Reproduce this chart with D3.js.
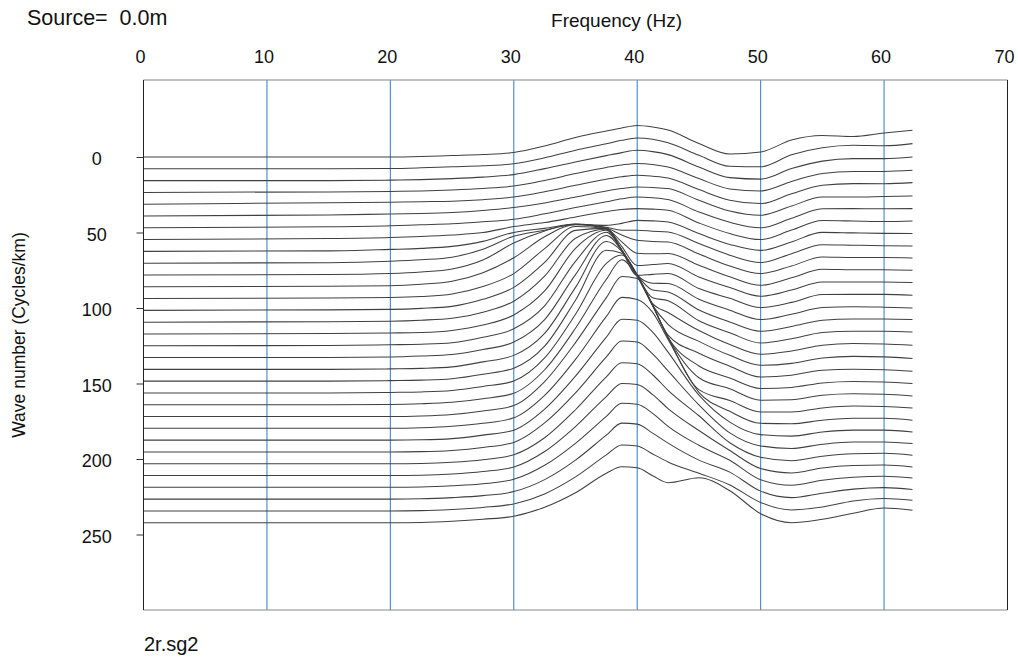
<!DOCTYPE html>
<html>
<head>
<meta charset="utf-8">
<script src="https://cdn.jsdelivr.net/npm/d3@7"></script>
<style>
  html, body { margin: 0; padding: 0; background: #fff; }
  svg { display: block; font-family: "Liberation Sans", Arial, sans-serif; }
</style>
</head>
<body>
<svg id="chart" width="1018" height="657"></svg>
<script>
// f-k spectrum wiggle display: one trace per wave number, amplitude vs frequency

const freqTicks = [0, 10, 20, 30, 40, 50, 60, 70];
const waveTicks = [0, 50, 100, 150, 200, 250];

// wave number of each trace (cycles/km)
const waveNumbers = [0, 7.81, 15.63, 23.44, 31.25, 39.06, 46.88, 54.69, 62.5, 70.31,
  78.13, 85.94, 93.75, 101.56, 109.38, 117.19, 125, 132.81, 140.63, 148.44,
  156.25, 164.06, 171.88, 179.69, 187.5, 195.31, 203.13, 210.94, 218.75, 226.56,
  234.38, 242.19];

// frequencies (Hz) where each trace amplitude is given
const freqs = [0, 15, 20, 22.5, 25, 27.5, 30, 32.5, 35, 37.5, 38.75, 40, 41.25, 42.5,
  45, 47.5, 50, 52.5, 55, 57.5, 60, 62.3];

// spectral amplitude of each trace at the frequencies above (display units)
const traceAmps = [
  [0, 0, 0, 0.5, 1.5, 2.5, 4.5, 11, 19.5, 26, 29, 31.5, 30, 27, 13.5, 3, 5, 17, 21.5, 20.5, 24, 26.7],
  [0, 0, 0.3, 1, 2, 3, 5, 11, 18.5, 25, 28.5, 30.8, 29.5, 26, 13.5, 2.5, 2, 14, 21, 23.5, 23, 25.2],
  [0, 0, 0.5, 1, 2, 3.5, 6, 12, 18.6, 25, 28, 30.3, 29, 26, 13.6, 3, 1.5, 12, 19.5, 22, 22, 23.6],
  [0, 0.5, 1, 1.5, 2.5, 4, 6.4, 12, 18.8, 25, 27.5, 29, 28, 25.4, 13.8, 3.5, 1.5, 11, 19, 21, 21, 22.1],
  [0, 1.5, 2, 2.5, 3, 4.5, 7.2, 12.5, 18.9, 25, 27.5, 29, 28, 26.2, 14.6, 4, 0.6, 10.5, 19, 20.6, 20.5, 21.6],
  [0, 1, 2, 2.5, 3.5, 5.5, 8.4, 13, 19, 25, 27.5, 29, 28.5, 27.4, 15.7, 5, 0.7, 10, 19, 19, 19.5, 20],
  [0, 1, 2, 3, 4, 6, 8.5, 14, 20.2, 26, 29, 30.8, 30, 28.2, 15.8, 5.5, 0, 9.5, 19, 19.2, 19, 19.2],
  [0, 1, 2, 3, 4.5, 7, 13, 17, 22.6, 28, 30, 31, 30.5, 29.3, 16.6, 6, 0, 9.5, 19, 18.6, 18, 18.6],
  [0, 0.5, 2, 3, 5, 10, 19, 23, 27, 26, 28, 31, 30.5, 29.4, 17.8, 7, 1, 9.5, 19, 18.5, 18, 17.8],
  [0, 0.5, 2, 3.5, 6, 14, 27, 33, 39, 36, 33, 33, 32, 31.2, 19.6, 8, 0.6, 9.5, 18.5, 18, 17.5, 17.2],
  [0, 0.5, 1.5, 3, 6, 15, 32, 44, 51, 47, 40, 34.7, 33.5, 33, 21, 9, 1.4, 9, 18, 17.5, 17.5, 17],
  [0, 0.5, 1, 2.5, 5.5, 14, 29, 50, 62, 58, 45, 33.5, 33, 33.2, 21.5, 10, 1.5, 9, 17.5, 17, 17, 16.5],
  [0, 0.5, 1, 2, 4.5, 12, 25, 50, 72, 70, 52, 33, 34, 35, 21.6, 11, 2.3, 8.5, 16.6, 16.5, 16.5, 16],
  [0, 0.5, 1, 2, 4, 11, 23, 48, 80, 82, 60, 35, 36, 36.8, 21.8, 12, 2.8, 8, 15.8, 16, 16, 15.1],
  [0, 0.5, 1, 2, 4, 10, 21, 46, 84, 93, 72, 47, 39, 38.6, 23, 12, 2.6, 8, 14.6, 15.5, 15, 14.2],
  [0, 0.5, 1, 1.5, 3.5, 9, 19, 43, 85.7, 103.7, 84, 59, 44, 42, 24, 12, 2.7, 7.5, 13.7, 15, 15, 14.4],
  [0, 0.3, 1, 1.5, 3, 8.5, 17, 40, 84.5, 113.5, 96, 70, 48, 45, 25, 13, 2.8, 7, 13.2, 14.5, 14.5, 13.8],
  [0, 0, 0.5, 1.5, 3, 8, 15.5, 38, 83, 122, 107, 82, 54, 45, 27, 13, 3.3, 6.5, 12.3, 14, 13.5, 12.3],
  [0, 0, 0.5, 1, 2.5, 7.5, 14, 36, 82, 128, 118, 94, 64, 45, 28, 14, 4.1, 6, 11.4, 13, 12.5, 10.8],
  [0, 0, 0.5, 1, 2.5, 7, 13, 35, 81, 131, 128, 106, 76, 46, 28, 15, 4.2, 6, 10.9, 12, 11.5, 9.9],
  [0, 0, 0.5, 1, 2.5, 6.5, 12, 35, 78.7, 129.7, 138, 118, 88, 55.7, 27, 15, 4.4, 5.5, 10, 11.5, 11, 9.4],
  [0, 0, 0.3, 1, 2.5, 6, 11.5, 35, 76.5, 125.5, 145, 128, 99, 67.5, 27, 16, 4.5, 5, 9.5, 11, 10.5, 8.8],
  [0, 0, 0, 0.5, 2, 5.5, 11, 35, 74, 119, 140, 138, 111, 79, 27, 16, 4.6, 4.5, 8.6, 10.5, 10, 8.6],
  [0, 0, 0, 0.5, 2, 5, 10.5, 33, 69, 112, 131, 129, 116, 89, 36, 17, 5, 4.5, 8.1, 10, 10, 8.1],
  [0, 0, 0, 0.3, 1.5, 5, 10, 31, 64, 103, 121, 120, 108, 88, 45, 18, 5.5, 4, 8.2, 10, 10, 8.2],
  [0, 0, 0, 0.3, 1.5, 4.5, 9.5, 29, 59, 95, 111, 110, 98, 81, 47, 19, 6, 3.5, 7.7, 10, 10, 8.4],
  [0, 0, 0, 0.3, 1.5, 4, 9, 26, 54, 87, 101, 100, 89, 73.5, 48, 21, 6.5, 3, 7.5, 10, 10.5, 8.5],
  [0, 0, 0, 0.3, 1.5, 4, 8.5, 24, 49, 79, 92, 91, 81, 67, 45, 25, 7, 2.5, 7.6, 10, 10.5, 8.6],
  [0, 0, 0, 0.3, 1.5, 3.5, 8, 22, 44, 71, 84, 83, 74, 61, 42, 27, 7.5, 2, 7.1, 10, 11, 9.4],
  [0, 0, 0, 0.3, 1.5, 3.5, 7.5, 19.5, 39, 64, 76, 75, 66, 56, 39, 27, 8, 1.5, 5.9, 10, 11.5, 9.6],
  [0, 0, 0, 0.3, 1.5, 3.5, 7, 17, 34, 56, 66, 65, 57, 49, 37.7, 26, 8.5, 1, 4, 10, 12.5, 10.7],
  [0, 0, 0, 0.3, 1.5, 3.5, 6.5, 15.5, 30, 49.5, 56, 55, 47, 40, 45, 32, 9, 0, 3.5, 9.5, 14.8, 12.5]
];

// display gain: wave-number units per amplitude unit
const ampGain = 0.662;

const svg = d3.select("#chart");
const plot = { left: 143.5, right: 1007.5, top: 80, bottom: 610 };

const x = d3.scaleLinear().domain([0, 70]).range([plot.left, plot.right]);
const y = d3.scaleLinear().domain([-51, 300]).range([plot.top, plot.bottom]);

svg.append("rect").attr("width", 1018).attr("height", 657).attr("fill", "#fff");

// vertical frequency grid
svg.append("g")
  .selectAll("line")
  .data(freqTicks.filter(d => d > 0 && d < 70))
  .join("line")
  .attr("x1", d => x(d)).attr("x2", d => x(d))
  .attr("y1", plot.top).attr("y2", plot.bottom)
  .attr("stroke", "#3f87cf").attr("stroke-width", 1.1);

// traces
const line = d3.line()
  .x(d => x(d.f))
  .y(d => y(d.k - d.a * ampGain))
  .curve(d3.curveMonotoneX);

svg.append("g")
  .selectAll("path")
  .data(waveNumbers.map((k, i) => freqs.map((f, j) => ({ f, k, a: traceAmps[i][j] }))))
  .join("path")
  .attr("d", line)
  .attr("fill", "none")
  .attr("stroke", "#404040")
  .attr("stroke-width", 1.05);

// frame
svg.append("line").attr("x1", plot.left).attr("x2", plot.right).attr("y1", plot.top).attr("y2", plot.top)
  .attr("stroke", "#888").attr("stroke-width", 1.2);
svg.append("line").attr("x1", plot.left).attr("x2", plot.right).attr("y1", plot.bottom).attr("y2", plot.bottom)
  .attr("stroke", "#888").attr("stroke-width", 1.2);
svg.append("line").attr("x1", plot.left).attr("x2", plot.left).attr("y1", plot.top).attr("y2", plot.bottom)
  .attr("stroke", "#222").attr("stroke-width", 1);
svg.append("line").attr("x1", plot.right).attr("x2", plot.right).attr("y1", plot.top).attr("y2", plot.bottom)
  .attr("stroke", "#222").attr("stroke-width", 1);

// top frequency axis labels
const xAxis = d3.axisTop(x).tickValues(freqTicks).tickSize(0).tickPadding(0);
const gx = svg.append("g").attr("transform", "translate(-3.5, 63)").call(xAxis);
gx.select(".domain").remove();
gx.selectAll("text").attr("font-size", 18).attr("fill", "#111")
  .attr("font-family", "Liberation Sans, Arial, sans-serif");

// left wave-number axis
const yAxis = d3.axisLeft(y).tickValues(waveTicks).tickSize(7).tickPadding(0);
const gy = svg.append("g").attr("transform", `translate(${plot.left},0)`).call(yAxis);
gy.select(".domain").remove();
gy.selectAll(".tick line").attr("stroke", "#333");
gy.selectAll("text")
  .attr("font-size", 18).attr("fill", "#111")
  .attr("text-anchor", "middle")
  .attr("x", -46.8).attr("dy", "0.42em")
  .attr("font-family", "Liberation Sans, Arial, sans-serif");

// titles
svg.append("text").attr("x", 616.5).attr("y", 27).attr("text-anchor", "middle")
  .attr("font-size", 19).attr("fill", "#111").text("Frequency (Hz)");
svg.append("text").attr("transform", "translate(25,335) rotate(-90)").attr("text-anchor", "middle")
  .attr("font-size", 17.5).attr("fill", "#111").text("Wave number (Cycles/km)");
svg.append("text").attr("x", 27).attr("y", 25).attr("font-size", 21.5).attr("fill", "#111")
  .attr("xml:space", "preserve").style("white-space", "pre").text("Source=  0.0m");
svg.append("text").attr("x", 144).attr("y", 651).attr("font-size", 20).attr("fill", "#111")
  .text("2r.sg2");
</script>
</body>
</html>
